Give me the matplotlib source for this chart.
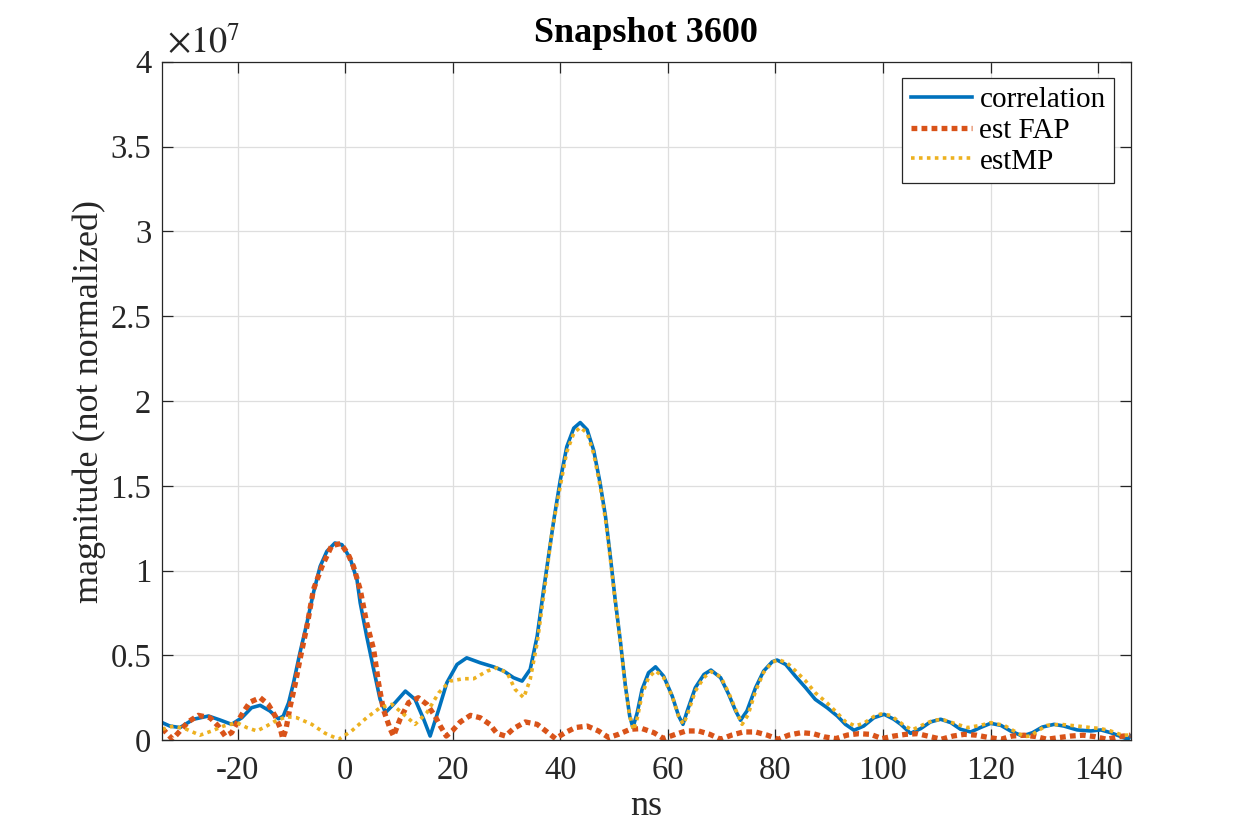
import matplotlib
matplotlib.use("Agg")
import matplotlib.pyplot as plt
from matplotlib.ticker import FuncFormatter, MultipleLocator

plt.rcParams['font.family'] = ['Liberation Serif', 'DejaVu Serif']
plt.rcParams['mathtext.fontset'] = 'stix'
plt.rcParams['axes.unicode_minus'] = False

# values, magnitude in units of 1e6
corr_ns = [-34, -32.6, -30.7, -28.2, -25.4, -23.3, -21.1, -19.2, -17.4, -15.8, -14.0, -12.4,
           -11.5, -10.5, -9.6, -8.4, -7.1, -5.9, -4.65, -3.4, -1.9, -0.6, 0.9, 2.2, 2.8, 4.0,
           5.3, 6.5, 7.5, 9.3, 11.2, 13.0, 14.6, 15.8, 17.4, 18.9, 20.8, 22.6, 25.1, 27.6,
           29.5, 31.3, 32.9, 34.4, 35.7, 36.9, 38.8, 40.0, 41.2, 42.5, 43.7, 45.0, 46.2, 47.4,
           48.4, 49.3, 50.2, 51.2, 52.1, 52.9, 53.5, 54.3, 55.2, 56.4, 57.7, 59.2, 60.8, 62.0,
           62.8, 63.6, 65.1, 66.7, 68.0, 69.8, 71.3, 72.6, 73.5, 74.7, 76.3, 77.8, 79.4, 80.3,
           81.9, 83.7, 85.6, 87.4, 89.6, 91.5, 93.0, 94.6, 96.4, 98.3, 100.2, 102.0, 103.3,
           105.1, 107.0, 108.8, 110.7, 112.6, 114.4, 116.3, 118.1, 120.0, 121.9, 123.7, 125.9,
           127.8, 129.6, 131.8, 133.6, 136.1, 138.6, 140.5, 142.3, 144.2, 145.5, 146]
corr_mag = [1.04, 0.84, 0.75, 1.24, 1.43, 1.2, 0.94, 1.33, 1.92, 2.06, 1.73, 1.27,
            1.43, 2.22, 3.39, 5.16, 6.92, 8.69, 10.25, 11.14, 11.63, 11.53, 10.75, 9.47, 8.1, 6.14,
            4.18, 2.41, 1.63, 2.22, 2.9, 2.41, 1.24, 0.25, 1.82, 3.39, 4.47, 4.86, 4.57, 4.33,
            4.08, 3.69, 3.49, 4.18, 6.14, 8.88, 13.0, 15.35, 17.3, 18.4, 18.73, 18.3, 17.1, 15.16,
            13.2, 10.84, 8.29, 5.75, 3.2, 1.43, 0.75, 1.63, 3.0, 3.98, 4.33, 3.78, 2.61, 1.43,
            0.94, 1.73, 3.1, 3.88, 4.14, 3.69, 2.71, 1.73, 1.18, 1.73, 3.1, 4.08, 4.63, 4.73,
            4.47, 3.78, 3.1, 2.41, 1.92, 1.43, 0.94, 0.59, 0.84, 1.33, 1.53, 1.24, 0.94,
            0.41, 0.69, 1.08, 1.24, 1.04, 0.65, 0.49, 0.75, 1.0, 0.88, 0.55, 0.25,
            0.45, 0.78, 0.94, 0.84, 0.61, 0.55, 0.61, 0.45, 0.22, 0.06, 0.25]

fap_ns = [-34, -32.1, -30.7, -29.2, -27.3, -25.1, -23.6, -22.3, -21.1, -20.1, -19.0, -17.7,
          -15.8, -14.3, -13.0, -12.1, -11.6, -11.0, -10.2, -9.3, -8.4, -7.1, -5.9, -4.3, -2.5,
          -0.8, 0.6, 1.55, 2.8, 4.0, 5.3, 6.2, 7.1, 8.4, 9.0, 10.2, 11.8, 13.6, 15.2, 16.7,
          17.7, 18.8, 19.9, 21.4, 23.3, 25.1, 26.9, 28.2, 29.8, 31.3, 33.5, 35.7, 37.3, 39.1,
          40.9, 42.8, 45.0, 47.1, 49.0, 50.8, 53.0, 55.2, 57.4, 59.2, 61.4, 63.4, 65.7, 67.8,
          69.8, 71.9, 74.0, 76.3, 78.5, 80.5, 82.5, 84.8, 87.0, 89.1, 91.2, 93.4, 95.5, 97.7,
          99.8, 102.0, 104.2, 106.4, 108.7, 110.8, 113.0, 115.1, 117.4, 119.7, 121.9, 124.0,
          126.2, 128.4, 130.5, 132.7, 134.9, 137.2, 139.3, 141.6, 143.9, 146]
fap_mag = [0.7, 0.06, 0.55, 1.08, 1.47, 1.33, 0.84, 0.25, 0.45, 1.04, 1.63, 2.25,
           2.51, 2.12, 1.43, 0.75, 0.1, 0.65, 2.02, 3.29, 4.76, 6.72, 8.88, 10.25, 11.47,
           11.6, 10.94, 10.25, 8.88, 6.92, 5.35, 3.39, 1.82, 0.65, 0.25, 1.24, 2.22, 2.51, 2.12, 1.43,
           0.84, 0.25, 0.55, 1.08, 1.47, 1.33, 0.94, 0.41, 0.25, 0.69, 1.08, 0.94, 0.55, 0.1,
           0.45, 0.75, 0.84, 0.55, 0.16, 0.35, 0.65, 0.69, 0.45, 0.1, 0.35, 0.55, 0.55, 0.35,
           0.06, 0.31, 0.49, 0.49, 0.3, 0.06, 0.31, 0.45, 0.39, 0.2, 0.1, 0.31, 0.39, 0.35,
           0.1, 0.25, 0.35, 0.39, 0.22, 0.06, 0.25, 0.35, 0.3, 0.16, 0.06, 0.25,
           0.3, 0.22, 0.06, 0.16, 0.25, 0.3, 0.22, 0.06, 0.22, 0.3]

mp_ns = [-34, -31.9, -29.5, -27.0, -24.8, -22.6, -20.1, -18.3, -16.4, -14.6, -13.0, -10.9,
         -9.0, -6.2, -3.7, -1.2, 1.2, 4.0, 6.5, 8.7, 10.9, 13.0, 15.2, 17.4, 19.5, 22.0, 23.9,
         26.4, 28.2, 30.1, 31.6, 33.2, 34.4, 35.7, 36.9, 38.5, 40.0, 41.2, 42.5, 43.7, 45.0,
         46.2, 47.4, 48.4, 49.3, 50.2, 51.2, 52.1, 52.9, 53.6, 54.3, 55.2, 56.4, 57.7, 59.2,
         60.8, 62.0, 62.9, 63.6, 65.1, 66.7, 68.0, 69.8, 71.3, 72.6, 73.8, 74.9, 76.3, 77.8,
         79.4, 80.6, 82.2, 83.7, 85.6, 87.4, 89.6, 91.5, 93.0, 94.8, 96.4, 98.3, 99.6, 101.4,
         103.9, 105.4, 107.6, 109.5, 111.3, 113.8, 115.7, 118.1, 120.0, 122.5, 124.9, 126.2,
         127.4, 128.7, 130.5, 133.0, 136.1, 138.6, 140.5, 142.3, 144.5, 146]
mp_mag = [0.65, 0.84, 0.65, 0.3, 0.55, 0.84, 1.04, 0.75, 0.55, 0.84, 1.13, 1.39,
          1.33, 0.94, 0.41, 0.06, 0.55, 1.33, 1.92, 2.12, 1.53, 0.94, 1.63, 2.8, 3.49, 3.63, 3.63,
          4.08, 4.27, 3.98, 3.0, 2.51, 3.59, 5.75, 8.5, 12.4, 15.0, 17.0, 18.1, 18.45, 18.1,
          16.9, 15.0, 13.0, 10.7, 8.2, 5.7, 3.2, 1.43, 0.6, 1.3, 2.7, 3.7, 4.1, 3.7,
          2.6, 1.4, 0.95, 1.5, 2.9, 3.7, 4.05, 3.75, 2.8, 1.8, 0.94, 1.5, 2.9, 4.0,
          4.6, 4.75, 4.55, 4.1, 3.5, 2.8, 2.2, 1.6, 1.1, 0.85, 1.0, 1.4, 1.55, 1.47,
          0.88, 0.61, 0.94, 1.2, 1.2, 0.94, 0.75, 0.88, 1.04, 0.88, 0.45, 0.22,
          0.25, 0.55, 0.88, 0.94, 0.84, 0.75, 0.69, 0.55, 0.3, 0.31]

labels = ['correlation', 'est FAP', 'estMP']
colors = ['#0072BD', '#D95319', '#EDB120']

fig = plt.figure(figsize=(12.5, 8.33), dpi=100)
ax = fig.add_axes([0.1298, 0.1113, 0.9044 - 0.1298, 0.9259 - 0.1113])

ax.plot(corr_ns, [v * 1e6 for v in corr_mag], color=colors[0], lw=2.6,
        solid_joinstyle='round', label=labels[0])
ax.plot(fap_ns, [v * 1e6 for v in fap_mag], color=colors[1], lw=3.8,
        linestyle=(0, (1.1, 0.8)), dash_capstyle='butt', dash_joinstyle='round', label=labels[1])
ax.plot(mp_ns, [v * 1e6 for v in mp_mag], color=colors[2], lw=2.6,
        linestyle=(0, (1.0, 1.2)), dash_capstyle='butt', dash_joinstyle='round', label=labels[2])

ax.set_xlim(-34, 146)
ax.set_ylim(0, 4e7)
ax.xaxis.set_major_locator(MultipleLocator(20))
ax.yaxis.set_major_locator(MultipleLocator(0.5e7))
ax.yaxis.set_major_formatter(FuncFormatter(lambda v, p: f"{v / 1e7:g}"))
ax.xaxis.set_major_formatter(FuncFormatter(lambda v, p: f"{v:g}"))

ax.grid(True, color='#dedede', lw=0.9)
ax.set_axisbelow(True)
ax.tick_params(direction='in', length=8, width=0.9, top=True, right=True,
               labelsize=23.5, colors='#262626')
ax.tick_params(axis='x', pad=11)
ax.tick_params(axis='y', pad=8)
for s in ax.spines.values():
    s.set_color('#262626')
    s.set_linewidth(0.9)

ax.set_xlabel('ns', fontsize=26, color='#262626', labelpad=3)
ax.set_ylabel('magnitude (not normalized)', fontsize=26, color='#262626', labelpad=3)
ax.set_title('Snapshot 3600', fontsize=26, fontweight='bold', pad=14)
ax.text(0.005, 1.0128, r'$\times10^{7}$', transform=ax.transAxes, fontsize=26,
        ha='left', va='baseline', color='#262626')

leg = ax.legend(loc='upper right', fontsize=21, frameon=True, fancybox=False,
                edgecolor='#262626', framealpha=1, borderaxespad=0.55,
                handlelength=2.1, handletextpad=0.25, labelspacing=0.15, borderpad=0.3)
leg.get_frame().set_linewidth(0.9)

fig.savefig('out.png', dpi=100)
